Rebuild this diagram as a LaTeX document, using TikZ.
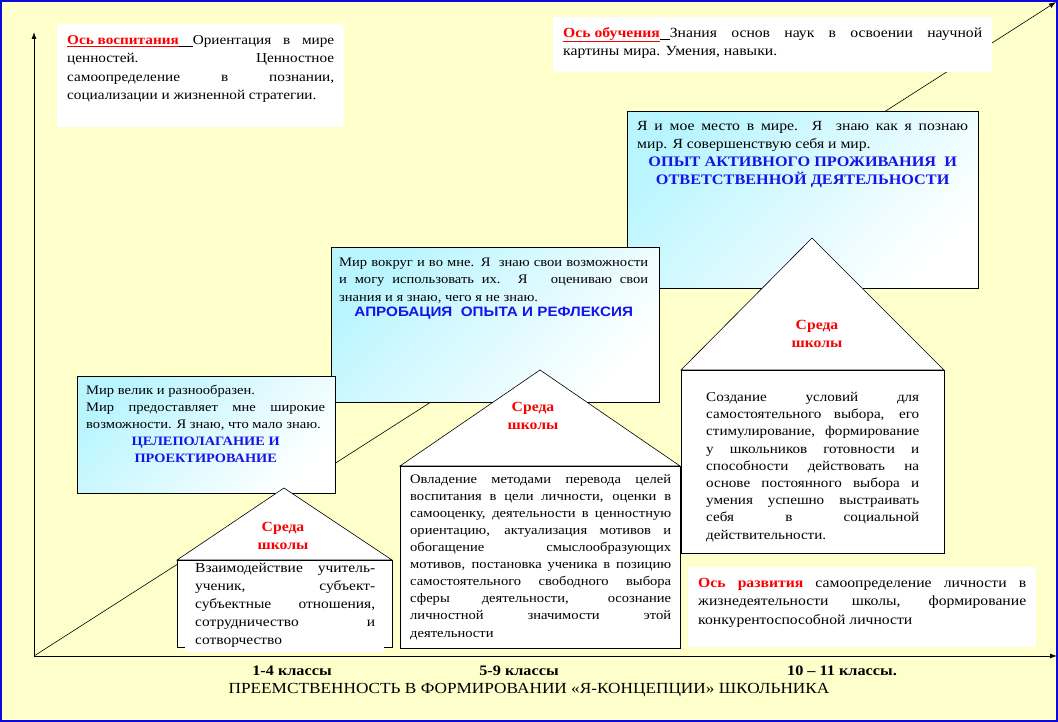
\documentclass[tikz,border=0pt]{standalone}
\usepackage{fontspec}
\setmainfont{Liberation Serif}[FakeStretch=1.12]
\setsansfont{Liberation Sans}[FakeStretch=1.12]
\usetikzlibrary{arrows.meta}
\definecolor{bgyellow}{RGB}{255,255,204}
\definecolor{frameblue}{RGB}{10,10,220}
\definecolor{cyanlight}{RGB}{185,245,255}
\definecolor{txtblue}{RGB}{20,20,230}
\definecolor{txtred}{RGB}{250,0,0}
\begin{document}
\begin{tikzpicture}[x=1pt,y=-1pt,
  axis/.style={line width=0.9pt,-{Latex[length=7pt,width=5pt]}},
  diag/.style={line width=0.6pt,-{Latex[length=7pt,width=5pt]}},
  whitebox/.style={anchor=north west,fill=white,draw=none,inner sep=0pt},
  stage/.style={anchor=north west,draw=black,line width=0.8pt,inner sep=0pt,
    shade,top color=cyanlight,bottom color=white,shading angle=45},
  body/.style={anchor=north west,draw=black,line width=0.8pt,fill=white,inner sep=0pt},
  roof/.style={draw=black,line width=0.6pt,fill=white},
  txt/.style={anchor=north west,inner sep=0pt,align=justify,font=\fontsize{14}{18.5}\selectfont},
  htxt/.style={anchor=north west,inner sep=0pt,align=justify,font=\fontsize{13.5}{17.2}\selectfont},
  btxt/.style={anchor=north west,inner sep=0pt,align=justify,font=\fontsize{13}{17.2}\selectfont},
  sreda/.style={align=center,inner sep=0pt,text=txtred,font=\fontsize{14}{18}\selectfont\bfseries},
  klass/.style={inner sep=0pt,font=\fontsize{14.5}{16}\selectfont\bfseries}
]
\useasboundingbox (0,0) rectangle (1058,722);
\fill[bgyellow] (0,0) rectangle (1058,722);
\draw[frameblue,line width=1.6pt] (1,1) rectangle (1057,721);

% axes
\coordinate (O) at (34,656);
\coordinate (Ytop) at (34,32);
\coordinate (Xend) at (1057,656);
\coordinate (Dend) at (1056,2);
\draw[diag] (O) -- (Dend);
\draw[axis] (O) -- (Ytop);
\draw[axis] (O) -- (Xend);

% axis label boxes
\node[whitebox,minimum width=287pt,minimum height=103pt] (vosp) at (57,24) {};
\node[txt,text width=267pt,font=\fontsize{13.6}{18.5}\selectfont] (vospt) at (67,35)
 {{\color{txtred}\bfseries\underline{Ось воспитания}}\rule[-2pt]{14pt}{0.7pt}Ориентация в мире\linebreak
  ценностей. Ценностное\linebreak самоопределение в познании,\linebreak социализации и жизненной стратегии.};

\node[whitebox,minimum width=439pt,minimum height=55pt] (obuch) at (553,17) {};
\node[txt,text width=419pt] (obucht) at (563,27)
 {{\color{txtred}\bfseries\underline{Ось обучения}}\rule[-2pt]{10pt}{0.7pt}Знания основ наук в освоении научной\linebreak
  картины мира. Умения, навыки.};

% stage boxes
\node[stage,minimum width=351pt,minimum height=177pt] (b3) at (627,111) {};
\node[txt,text width=331pt] (b3t) at (637,121)
 {Я и мое место в мире. Я\ \ знаю как я познаю\linebreak мир. Я совершенствую себя и мир.\par
  \centering\color{txtblue}\fontsize{14.5}{18}\selectfont\bfseries ОПЫТ АКТИВНОГО ПРОЖИВАНИЯ\ \ И\\ ОТВЕТСТВЕННОЙ ДЕЯТЕЛЬНОСТИ\par};

\node[stage,minimum width=328pt,minimum height=155pt] (b2) at (331,247) {};
\node[btxt,text width=309pt] (b2t) at (339,258)
 {Мир вокруг и во мне. Я\ \ знаю свои возможности\linebreak и могу использовать их. Я\ \ \ оцениваю свои\linebreak знания и я знаю, чего я не знаю.\par
  \centering\color{txtblue}\sffamily\fontsize{13.6}{15.5}\selectfont\bfseries АПРОБАЦИЯ\ \ ОПЫТА И РЕФЛЕКСИЯ\par};

\node[stage,minimum width=258pt,minimum height=117pt] (b1) at (77,376) {};
\node[btxt,text width=239pt] (b1t) at (86,385)
 {Мир велик и разнообразен.\\ Мир предоставляет мне широкие\linebreak возможности. Я знаю, что мало знаю.\par
  \centering\color{txtblue}\fontsize{12.8}{17}\selectfont\bfseries ЦЕЛЕПОЛАГАНИЕ И\\ ПРОЕКТИРОВАНИЕ\par};

% house 3
\coordinate (h3a) at (812,238);
\coordinate (h3l) at (681,370);
\coordinate (h3r) at (944,370);
\draw[roof] (h3l) -- (h3a) -- (h3r) -- cycle;
\node[body,minimum width=263pt,minimum height=183pt] (h3) at (681,370) {};
\node[sreda] (h3s) at (817,334) {Среда\\ школы};
\node[htxt,text width=213pt] (h3t) at (706,392)
 {Создание условий для\linebreak самостоятельного выбора, его\linebreak стимулирование, формирование\linebreak у школьников готовности и\linebreak способности действовать на\linebreak основе постоянного выбора и\linebreak умения успешно выстраивать\linebreak себя в социальной\linebreak действительности.};

% house 2
\coordinate (h2a) at (540,370);
\coordinate (h2l) at (400,466);
\coordinate (h2r) at (680,466);
\draw[roof] (h2l) -- (h2a) -- (h2r) -- cycle;
\node[body,minimum width=280pt,minimum height=182pt] (h2) at (400,466) {};
\node[sreda] (h2s) at (533,416) {Среда\\ школы};
\node[htxt,text width=261pt,font=\fontsize{13}{17.1}\selectfont] (h2t) at (410,474)
 {Овладение методами перевода целей\linebreak воспитания в цели личности, оценки в\linebreak самооценку, деятельности в ценностную\linebreak ориентацию, актуализация мотивов и\linebreak обогащение смыслообразующих\linebreak мотивов, постановка ученика в позицию\linebreak самостоятельного свободного выбора\linebreak сферы деятельности, осознание\linebreak личностной значимости этой\linebreak деятельности};

% house 1
\coordinate (h1a) at (284,488);
\coordinate (h1l) at (177,560);
\coordinate (h1r) at (392,560);
\draw[roof] (h1l) -- (h1a) -- (h1r) -- cycle;
\node[body,minimum width=215pt,minimum height=87pt] (h1) at (177,560) {};
\fill[white] (185,561) rectangle (384,652);
\node[sreda] (h1s) at (283,536) {Среда\\ школы};
\node[htxt,text width=180pt,font=\fontsize{13.8}{18}\selectfont] (h1t) at (195,563)
 {Взаимодействие учитель-\linebreak ученик, субъект-\linebreak субъектные отношения,\linebreak сотрудничество и\linebreak сотворчество};

% development axis box
\node[whitebox,minimum width=348pt,minimum height=80pt] (razv) at (688,567) {};
\node[txt,text width=328pt] (razvt) at (698,578)
 {{\color{txtred}\bfseries Ось развития} самоопределение личности в\linebreak жизнедеятельности школы, формирование\linebreak конкурентоспособной личности};

% bottom labels
\node[klass] (k1) at (292,671) {1-4 классы};
\node[klass] (k2) at (519,671) {5-9 классы};
\node[klass] (k3) at (842,671) {10 – 11 классы.};
\node[inner sep=0pt,font=\fontsize{15.4}{18}\selectfont] (title) at (529,690) {ПРЕЕМСТВЕННОСТЬ В ФОРМИРОВАНИИ «Я-КОНЦЕПЦИИ» ШКОЛЬНИКА};
\end{tikzpicture}
\end{document}
